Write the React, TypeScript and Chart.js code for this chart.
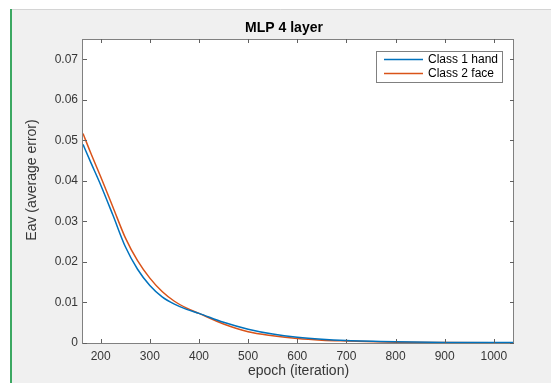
import React, { useEffect, useRef } from "react";
import { Chart, registerables } from "chart.js";

Chart.register(...registerables);

const chartTitle = "MLP 4 layer";
const xAxisLabel = "epoch (iteration)";
const yAxisLabel = "Eav (average error)";
const seriesNames = ["Class 1 hand", "Class 2 face"];
const seriesColors = ["#0072BD", "#D95319"];

const epochs = [164, 180, 200, 225, 250, 275, 300, 325, 350, 375, 400, 450, 500, 550, 600, 650, 700, 800, 900, 1041];
const class1Hand = [0.049, 0.0445, 0.039, 0.0315, 0.0238, 0.0182, 0.0142, 0.0114, 0.0096, 0.0083, 0.0073, 0.0051, 0.0034, 0.0022, 0.0014, 0.0009, 0.0006, 0.0003, 0.00015, 0.0001];
const class2Face = [0.0517, 0.0468, 0.041, 0.0335, 0.026, 0.0203, 0.016, 0.0127, 0.0103, 0.0086, 0.0073, 0.0047, 0.0028, 0.0018, 0.0011, 0.0007, 0.0005, 0.0002, 0.0001, 0.00005];

const xTicks = [200, 300, 400, 500, 600, 700, 800, 900, 1000];
const yTicks = [0, 0.01, 0.02, 0.03, 0.04, 0.05, 0.06, 0.07];
const xMin = 164;
const xMax = 1041;
const yMin = 0;
const yMax = 0.075;

const FONT = "'Liberation Sans', Arial, Helvetica, sans-serif";
const TEXT = "#363636";

const decorPlugin = {
  id: "decor",
  beforeDraw(chart: any) {
    const { ctx, width, height, chartArea } = chart;
    ctx.save();
    ctx.fillStyle = "#ffffff";
    ctx.fillRect(0, 0, width, height);
    ctx.fillStyle = "#f0f0f0";
    ctx.fillRect(10, 9, width - 10, height - 9);
    ctx.strokeStyle = "#d4d4d4";
    ctx.lineWidth = 1;
    ctx.beginPath();
    ctx.moveTo(10, 9.5);
    ctx.lineTo(width, 9.5);
    ctx.stroke();
    ctx.strokeStyle = "#3ca862";
    ctx.lineWidth = 2;
    ctx.beginPath();
    ctx.moveTo(11, 9);
    ctx.lineTo(11, height);
    ctx.stroke();
    ctx.fillStyle = "#ffffff";
    ctx.fillRect(chartArea.left, chartArea.top, chartArea.right - chartArea.left, chartArea.bottom - chartArea.top);
    ctx.restore();
  },
  afterDraw(chart: any) {
    const { ctx, chartArea } = chart;
    const { left, right, top, bottom } = chartArea;
    const xs = chart.scales.x;
    const ys = chart.scales.y;
    ctx.save();
    ctx.strokeStyle = "#808080";
    ctx.lineWidth = 1;
    ctx.strokeRect(Math.round(left) - 0.5, Math.round(top) + 0.5, Math.round(right - left), Math.round(bottom - top));
    ctx.strokeStyle = "#606060";
    ctx.beginPath();
    const tl = 4;
    for (const v of xTicks) {
      const px = Math.round(xs.getPixelForValue(v)) + 0.5;
      ctx.moveTo(px, bottom);
      ctx.lineTo(px, bottom - tl);
      ctx.moveTo(px, top);
      ctx.lineTo(px, top + tl);
    }
    for (const v of yTicks) {
      const py = Math.round(ys.getPixelForValue(v)) + 0.5;
      ctx.moveTo(left, py);
      ctx.lineTo(left + tl, py);
      ctx.moveTo(right, py);
      ctx.lineTo(right - tl, py);
    }
    ctx.stroke();

    ctx.fillStyle = "#000000";
    ctx.font = `bold 14px ${FONT}`;
    ctx.textAlign = "center";
    ctx.textBaseline = "middle";
    ctx.fillText(chartTitle, 284, 28);

    ctx.save();
    ctx.translate(32, 180);
    ctx.rotate(-Math.PI / 2);
    ctx.fillStyle = TEXT;
    ctx.font = `14px ${FONT}`;
    ctx.fillText(yAxisLabel, 0, 0);
    ctx.restore();

    const lx = 376.5, ly = 51.5, lw = 126, lh = 31;
    ctx.fillStyle = "#ffffff";
    ctx.fillRect(lx, ly, lw, lh);
    ctx.strokeStyle = "#808080";
    ctx.lineWidth = 1;
    ctx.strokeRect(lx, ly, lw, lh);
    ctx.font = `12px ${FONT}`;
    ctx.textAlign = "left";
    seriesNames.forEach((name, i) => {
      const y = 59.5 + i * 14;
      ctx.strokeStyle = seriesColors[i];
      ctx.lineWidth = 1.5;
      ctx.beginPath();
      ctx.moveTo(384, y);
      ctx.lineTo(423, y);
      ctx.stroke();
      ctx.fillStyle = "#000000";
      ctx.fillText(name, 428, y + 0.5);
    });
    ctx.restore();
  },
};

export default function App() {
  const canvasRef = useRef<HTMLCanvasElement | null>(null);

  useEffect(() => {
    const canvas = canvasRef.current;
    if (!canvas) return;
    const mk = (vals: number[]) => epochs.map((e, i) => ({ x: e, y: vals[i] }));
    const chart = new Chart(canvas, {
      type: "line",
      data: {
        datasets: [
          {
            label: seriesNames[0],
            data: mk(class1Hand),
            borderColor: seriesColors[0],
            backgroundColor: seriesColors[0],
            borderWidth: 1.5,
            pointRadius: 0,
            cubicInterpolationMode: "monotone",
            fill: false,
          },
          {
            label: seriesNames[1],
            data: mk(class2Face),
            borderColor: seriesColors[1],
            backgroundColor: seriesColors[1],
            borderWidth: 1.5,
            pointRadius: 0,
            cubicInterpolationMode: "monotone",
            fill: false,
          },
        ],
      },
      options: {
        animation: false,
        responsive: false,
        maintainAspectRatio: false,
        devicePixelRatio: 1,
        layout: { padding: { left: 0, right: 37, top: 39, bottom: 0 } },
        plugins: {
          legend: { display: false },
          title: { display: false },
          tooltip: { enabled: false },
        },
        scales: {
          x: {
            type: "linear",
            min: xMin,
            max: xMax,
            grid: { display: false, drawTicks: false },
            border: { display: false },
            afterBuildTicks: (scale: any) => {
              scale.ticks = xTicks.map((v) => ({ value: v }));
            },
            afterFit: (scale: any) => {
              scale.height = 40;
            },
            ticks: {
              autoSkip: false,
              maxRotation: 0,
              padding: 6,
              color: TEXT,
              font: { family: FONT, size: 12 },
              callback: (v: any) => String(v),
            },
            title: {
              display: true,
              text: xAxisLabel,
              color: TEXT,
              font: { family: FONT, size: 14 },
              padding: { top: 0, bottom: 3 },
            },
          },
          y: {
            type: "linear",
            min: yMin,
            max: yMax,
            grid: { display: false, drawTicks: false },
            border: { display: false },
            afterBuildTicks: (scale: any) => {
              scale.ticks = yTicks.map((v) => ({ value: v }));
            },
            afterFit: (scale: any) => {
              scale.width = 83;
            },
            ticks: {
              autoSkip: false,
              padding: 5,
              color: TEXT,
              font: { family: FONT, size: 12 },
              callback: (v: any) => (v === 0 ? "0" : Number(v).toFixed(2)),
            },
            title: { display: false, text: yAxisLabel },
          },
        },
      },
      plugins: [decorPlugin],
    } as any);
    return () => chart.destroy();
  }, []);

  return (
    <div style={{ position: "fixed", left: 0, top: 0, width: 551, height: 383 }}>
      <canvas ref={canvasRef} width={551} height={383} style={{ width: 551, height: 383, display: "block" }} />
    </div>
  );
}
